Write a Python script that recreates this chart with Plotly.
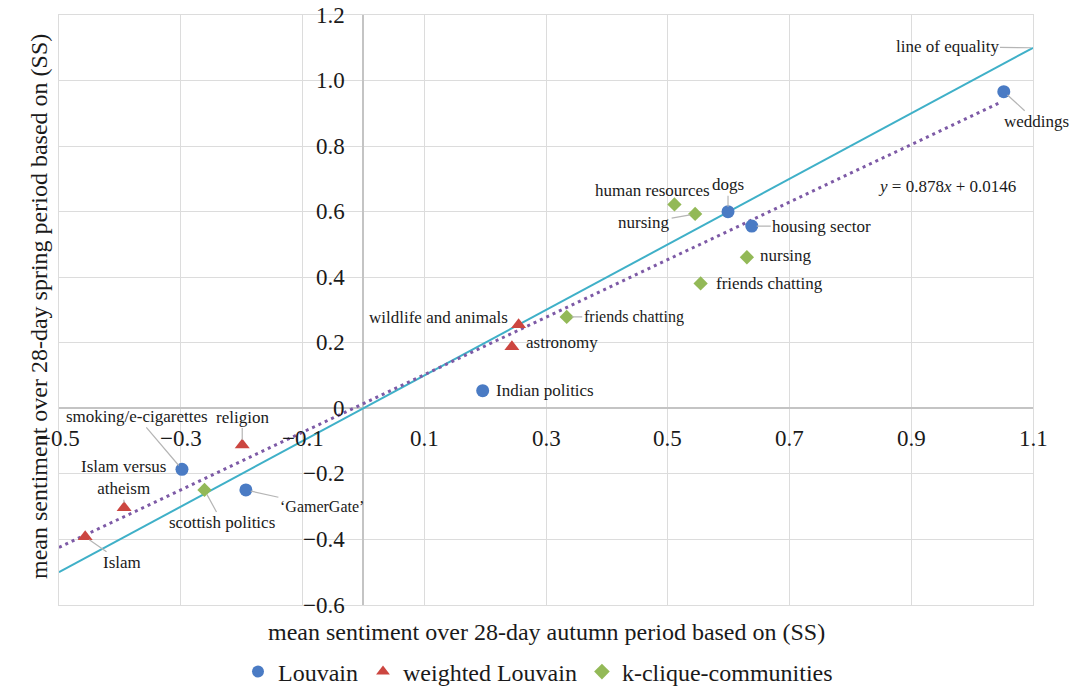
import numpy as np
import plotly.graph_objects as go

# Mean sentiment per community: autumn period (x) vs spring period (y)
louvain_topics = ["weddings", "dogs", "housing sector", "Indian politics",
                  "smoking/e-cigarettes", "‘GamerGate’"]
louvain_autumn = [1.052, 0.599, 0.638, 0.196, -0.298, -0.193]
louvain_spring = [0.966, 0.600, 0.556, 0.054, -0.186, -0.249]

weighted_topics = ["wildlife and animals", "astronomy", "religion",
                   "Islam versus<br>atheism", "Islam"]
weighted_autumn = [0.255, 0.244, -0.199, -0.393, -0.457]
weighted_spring = [0.255, 0.188, -0.112, -0.303, -0.392]

kclique_topics = ["human resources", "nursing", "nursing", "friends chatting",
                  "friends chatting", "scottish politics"]
kclique_autumn = [0.511, 0.545, 0.630, 0.554, 0.334, -0.261]
kclique_spring = [0.622, 0.593, 0.461, 0.381, 0.279, -0.249]

# Fitted trend line y = slope * x + intercept over the plotted x extent
trend_slope = 0.878
trend_intercept = 0.0146
trend_x = [-0.5, 1.044]

equality_x = [-0.5, 1.1]

x_ticks = [-0.5, -0.3, -0.1, 0.1, 0.3, 0.5, 0.7, 0.9, 1.1]
x_tick_text = ["−0.5", "−0.3", "−0.1", "0.1", "0.3", "0.5", "0.7", "0.9", "1.1"]
y_ticks = [-0.6, -0.4, -0.2, 0.0, 0.2, 0.4, 0.6, 0.8, 1.0, 1.2]
y_tick_text = ["−0.6", "−0.4", "−0.2", "0", "0.2", "0.4", "0.6", "0.8", "1.0", "1.2"]

SERIF = "Liberation Serif, Times New Roman, serif"
INK = "#1a1a1a"
GRID = "#dcdcdc"
AXIS = "#c4c4c4"
LEADER = "#b5b5b5"
BLUE = "#4a7bc4"
RED = "#cc4640"
GREEN = "#93b957"
TEAL = "#3fb0c8"
PURPLE = "#7d5aa6"

fig = go.Figure()

fig.add_trace(go.Scatter(
    x=equality_x, y=equality_x, mode="lines",
    line=dict(color=TEAL, width=2), showlegend=False, hoverinfo="skip"))

trend_y = trend_slope * np.array(trend_x) + trend_intercept
fig.add_trace(go.Scatter(
    x=trend_x, y=trend_y, mode="lines",
    line=dict(color=PURPLE, width=3, dash="3px,4px"),
    showlegend=False, hoverinfo="skip"))

fig.add_trace(go.Scatter(
    x=louvain_autumn, y=louvain_spring, mode="markers", name="Louvain",
    marker=dict(symbol="circle", size=13, color=BLUE)))
fig.add_trace(go.Scatter(
    x=weighted_autumn, y=weighted_spring, mode="markers", name="weighted Louvain",
    marker=dict(symbol="triangle-up", size=13, color=RED)))
fig.add_trace(go.Scatter(
    x=kclique_autumn, y=kclique_spring, mode="markers", name="k-clique-communities",
    marker=dict(symbol="diamond", size=11, color=GREEN)))

annotations = []

# Point labels: (text offset x, text offset y in px, leader line, font size)
louvain_place = [(33, 30, True, 17), (0, -27, True, 17), (70, 0, True, 17),
                 (62, 0, False, 17), (-45, -53, True, 17), (76, 17, True, 16)]
weighted_place = [(-80, -7, False, 17), (50, -4, False, 17), (0, -28, True, 17),
                  (-1, -30, True, 17), (37, 26, True, 17)]
kclique_place = [(-22, -14, False, 17), (-51, 9, True, 17), (39, -2, False, 17),
                 (69, 0, False, 17), (67, 0, True, 16), (18, 33, True, 17)]

for xs, ys, names, places in [
        (louvain_autumn, louvain_spring, louvain_topics, louvain_place),
        (weighted_autumn, weighted_spring, weighted_topics, weighted_place),
        (kclique_autumn, kclique_spring, kclique_topics, kclique_place)]:
    for xv, yv, name, (dx, dy, leader, fs) in zip(xs, ys, names, places):
        annotations.append(dict(
            x=xv, y=yv, xref="x", yref="y", text=name,
            showarrow=True, ax=dx, ay=dy, axref="pixel", ayref="pixel",
            arrowhead=0, arrowwidth=1.2, standoff=5,
            arrowcolor=LEADER if leader else "rgba(0,0,0,0)",
            font=dict(family=SERIF, size=fs, color=INK)))

annotations.append(dict(
    x=1.1, y=1.1, xref="x", yref="y", text="line of equality",
    showarrow=True, ax=-86, ay=-1, arrowhead=0, arrowwidth=1.2, standoff=2,
    arrowcolor=LEADER, font=dict(family=SERIF, size=17, color=INK)))

annotations.append(dict(
    x=0.959, y=0.678, xref="x", yref="y",
    text="<i>y</i> = 0.878<i>x</i> + 0.0146", showarrow=False,
    font=dict(family=SERIF, size=17, color=INK)))

# Axis titles
annotations.append(dict(
    x=0.5, y=-27 / 590, xref="paper", yref="paper", yanchor="middle",
    text="mean sentiment over 28-day autumn period based on (SS)",
    showarrow=False, font=dict(family=SERIF, size=24, color=INK)))
annotations.append(dict(
    x=0, y=0.5051, xref="paper", yref="paper", xanchor="center",
    yanchor="middle", xshift=-20, textangle=-90,
    text="mean sentiment over 28-day spring period based on (SS)",
    showarrow=False, font=dict(family=SERIF, size=24, color=INK)))

# Tick labels sit along the axes crossing at the origin
for v, t in zip(x_ticks, x_tick_text):
    annotations.append(dict(
        x=v, y=0, xref="x", yref="y", text=t, showarrow=False,
        yanchor="middle", yshift=-30,
        font=dict(family=SERIF, size=23, color=INK)))
for v, t in zip(y_ticks, y_tick_text):
    annotations.append(dict(
        x=0, y=v, xref="x", yref="y", text=t, showarrow=False,
        xanchor="right", xshift=-16, yanchor="middle",
        font=dict(family=SERIF, size=23, color=INK)))

fig.update_layout(
    width=1076, height=688,
    margin=dict(l=59, r=43, t=15, b=83, autoexpand=False),
    paper_bgcolor="white", plot_bgcolor="white",
    annotations=annotations,
    showlegend=True,
    legend=dict(orientation="h", x=0.5, xanchor="center", xref="container",
                y=(688 - 672) / 688, yanchor="middle", yref="container",
                font=dict(family=SERIF, size=24, color=INK),
                itemsizing="constant"),
    hovermode=False,
)
fig.update_xaxes(
    range=[-0.5, 1.1], tickvals=x_ticks, showticklabels=False, ticks="",
    showgrid=True, gridcolor=GRID, gridwidth=1,
    zeroline=True, zerolinecolor=AXIS, zerolinewidth=1.5,
    showline=True, linecolor=GRID, linewidth=1, mirror=True)
fig.update_yaxes(
    range=[-0.6, 1.2], tickvals=y_ticks, showticklabels=False, ticks="",
    showgrid=True, gridcolor=GRID, gridwidth=1,
    zeroline=True, zerolinecolor=AXIS, zerolinewidth=1.5,
    showline=True, linecolor=GRID, linewidth=1, mirror=True)

fig.write_html("out.html", config=dict(displayModeBar=False))
